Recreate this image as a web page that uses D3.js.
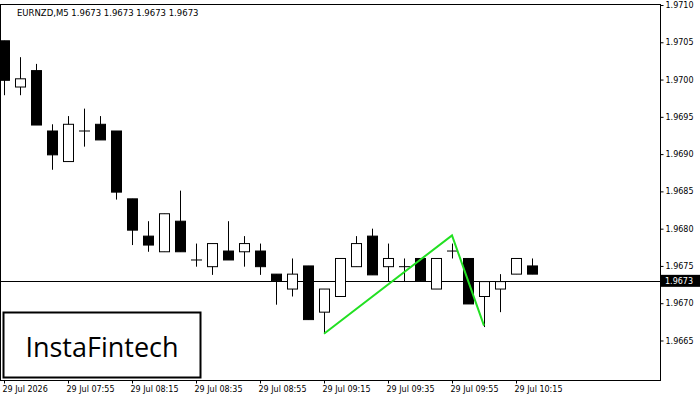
<!DOCTYPE html>
<html><head><meta charset="utf-8">
<script src="https://d3js.org/d3.v7.min.js"></script>
<style>body{margin:0;background:#fff}</style></head>
<body><svg id="c" width="700" height="400"></svg>
<script>
const opens  =[1.97052,1.96990,1.97012,1.96931,1.96890,1.96931,1.96940,1.96931,1.96840,1.96790,1.96769,1.96810,1.96758,1.96749,1.96770,1.96769,1.96770,1.96739,1.96719,1.96750,1.96688,1.96709,1.96749,1.96790,1.96749,1.96749,1.96760,1.96719,1.96770,1.96760,1.96709,1.96719,1.96739,1.96750];
const highs  =[1.97052,1.97030,1.97021,1.96940,1.96951,1.96961,1.96951,1.96931,1.96840,1.96810,1.96820,1.96851,1.96780,1.96780,1.96810,1.96790,1.96780,1.96739,1.96760,1.96750,1.96719,1.96760,1.96790,1.96800,1.96780,1.96760,1.96760,1.96760,1.96780,1.96760,1.96729,1.96739,1.96760,1.96760];
const lows   =[1.96979,1.96979,1.96939,1.96879,1.96890,1.96910,1.96919,1.96839,1.96778,1.96769,1.96769,1.96769,1.96749,1.96738,1.96758,1.96749,1.96738,1.96698,1.96709,1.96678,1.96659,1.96709,1.96749,1.96738,1.96729,1.96729,1.96730,1.96719,1.96760,1.96699,1.96668,1.96688,1.96739,1.96739];
const closes =[1.96999,1.97001,1.96939,1.96899,1.96940,1.96931,1.96919,1.96849,1.96798,1.96778,1.96820,1.96769,1.96758,1.96780,1.96758,1.96780,1.96749,1.96730,1.96739,1.96678,1.96719,1.96760,1.96780,1.96738,1.96760,1.96749,1.96730,1.96760,1.96770,1.96699,1.96729,1.96729,1.96760,1.96739];
const xLabels=["29 Jul 2026","29 Jul 07:55","29 Jul 08:15","29 Jul 08:35","29 Jul 08:55","29 Jul 09:15","29 Jul 09:35","29 Jul 09:55","29 Jul 10:15"];
const yTicks=[1.9665,1.9670,1.9675,1.9680,1.9685,1.9690,1.9695,1.9700,1.9705,1.9710];
const patternIdx=[20,28,30];
const patternPrice=[1.96659,1.96791,1.96670];
const lastPrice=1.9673;

const svg=d3.select("#c");
const x=d3.scaleLinear().domain([0,1]).range([4,20]);
const y=d3.scaleLinear().domain([1.96597,1.9710]).range([380,5]);
const R=660,B=380;
const font="Tahoma, 'DejaVu Sans', sans-serif";

svg.append("rect").attr("x",0.5).attr("y",4.5).attr("width",R).attr("height",B-4).attr("fill","none").attr("stroke","#000");

// y axis
const ya=svg.append("g").attr("transform",`translate(${R+0.5},0)`)
 .call(d3.axisRight(y).tickValues(yTicks).tickSize(3).tickFormat(d3.format(".4f")));
ya.select(".domain").remove();
ya.selectAll("text").attr("font-family",font).attr("font-size",8).attr("x",5);

// x axis
const xa=svg.append("g").attr("transform",`translate(0,${B+0.5})`)
 .call(d3.axisBottom(x).tickValues(xLabels.map((d,i)=>i*4)).tickSize(3).tickFormat((d,i)=>xLabels[i]));
xa.select(".domain").remove();
xa.selectAll("text").attr("font-family",font).attr("font-size",8).attr("text-anchor","start").attr("dx",-2).attr("y",6);

// last price line
svg.append("line").attr("x1",0).attr("x2",R).attr("y1",Math.round(y(lastPrice))+0.5).attr("y2",Math.round(y(lastPrice))+0.5).attr("stroke","#000");

const idx=d3.range(opens.length);
const g=svg.append("g");
g.selectAll("line.w").data(idx).join("line")
 .attr("x1",i=>Math.round(x(i))+0.5).attr("x2",i=>Math.round(x(i))+0.5)
 .attr("y1",i=>y(highs[i])).attr("y2",i=>y(lows[i])).attr("stroke","#000");
g.selectAll("rect.b").data(idx).join("rect")
 .attr("x",i=>Math.round(x(i))-4.5).attr("width",10)
 .attr("y",i=>y(Math.max(opens[i],closes[i])))
 .attr("height",i=>Math.max(0.01,Math.abs(y(opens[i])-y(closes[i]))))
 .attr("fill",i=>closes[i]<opens[i]?"#000":"#fff").attr("stroke","#000");

// pattern
svg.append("path").attr("d",d3.line().x(d=>x(d[0])).y(d=>y(d[1]))(patternIdx.map((d,i)=>[d,patternPrice[i]])))
 .attr("fill","none").attr("stroke","#22e022").attr("stroke-width",2);

// price label
const py=y(lastPrice);
svg.append("rect").attr("x",R+1).attr("y",py-6).attr("width",39).attr("height",12).attr("fill","#000");
svg.append("text").attr("x",R+5).attr("y",py+3).attr("fill","#fff").attr("font-family",font).attr("font-size",8).text(d3.format(".4f")(lastPrice));

// title
svg.append("text").attr("x",17).attr("y",16).attr("font-family",font).attr("font-size",8.5).text("EURNZD,M5  1.9673 1.9673 1.9673 1.9673");

// logo
svg.append("rect").attr("x",3.5).attr("y",312.5).attr("width",197).attr("height",65).attr("fill","#fff").attr("stroke","#000").attr("stroke-width",2);
svg.append("text").attr("x",102).attr("y",357).attr("text-anchor","middle").attr("font-family","'Open Sans', 'DejaVu Sans', sans-serif").attr("font-size",27).attr("fill","#000").text("InstaFintech");
</script></body></html>
